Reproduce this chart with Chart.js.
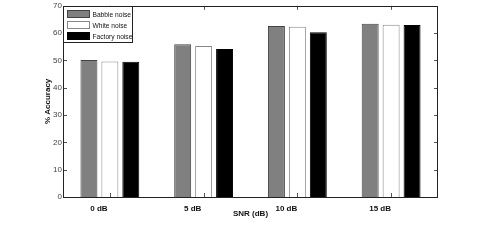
<!DOCTYPE html>
<html>
<head>
<meta charset="utf-8">
<script src="https://cdn.jsdelivr.net/npm/chart.js@4/dist/chart.umd.min.js"></script>
<style>
html,body{margin:0;padding:0;background:#fff;}
#wrap{width:485px;height:249px;}
</style>
</head>
<body>
<div id="wrap"><canvas id="c" width="485" height="249"></canvas></div>
<script>
const categories = ['0 dB', '5 dB', '10 dB', '15 dB'];
const babble = [50.2, 55.9, 62.6, 63.4];
const white = [49.6, 55.3, 62.3, 63.1];
const factory = [49.5, 54.2, 60.3, 63.0];
const seriesNames = ['Babble noise', 'White noise', 'Factory noise'];
const yTicks = [0, 10, 20, 30, 40, 50, 60, 70];

const FONT = 'Liberation Sans, Arial, Helvetica, sans-serif';

const framePlugin = {
  id: 'frame',
  afterDraw(chart) {
    const ctx = chart.ctx;
    const a = chart.chartArea;
    const ys = chart.scales.y, xs = chart.scales.x;
    ctx.save();
    ctx.strokeStyle = '#555';
    ctx.lineWidth = 1;
    yTicks.forEach(v => {
      const py = Math.round(ys.getPixelForValue(v)) + 0.5;
      ctx.beginPath();
      ctx.moveTo(a.left, py); ctx.lineTo(a.left + 4, py);
      ctx.moveTo(a.right, py); ctx.lineTo(a.right - 4, py);
      ctx.stroke();
    });
    categories.forEach((c, i) => {
      const px = Math.round(xs.getPixelForValue(i)) + 0.5;
      ctx.beginPath();
      ctx.moveTo(px, a.top); ctx.lineTo(px, a.top + 4);
      ctx.moveTo(px, a.bottom); ctx.lineTo(px, a.bottom - 4);
      ctx.stroke();
    });
    ctx.strokeStyle = '#222';
    ctx.strokeRect(Math.round(a.left) + 0.5, Math.round(a.top) + 0.5,
                   Math.round(a.right - a.left) - 1, Math.round(a.bottom - a.top));
    // legend
    const lx = Math.round(a.left) + 0.5, ly = Math.round(a.top) + 0.5;
    const lw = 69, lh = 36;
    ctx.fillStyle = '#fff';
    ctx.fillRect(lx, ly, lw, lh);
    ctx.strokeStyle = '#222';
    ctx.strokeRect(lx, ly, lw, lh);
    ctx.font = '8px ' + FONT;
    ctx.textBaseline = 'middle';
    ctx.textAlign = 'left';
    chart.data.datasets.forEach((ds, i) => {
      const ry = ly + 4 + i * 11;
      ctx.fillStyle = ds.backgroundColor;
      ctx.fillRect(lx + 4, ry, 22, 7);
      ctx.strokeStyle = ds.borderColor;
      ctx.strokeRect(lx + 4, ry, 22, 7);
      ctx.fillStyle = '#111';
      ctx.save();
      ctx.translate(lx + 29, ry + 4);
      ctx.scale(0.83, 1);
      ctx.fillText(ds.label, 0, 0);
      ctx.restore();
    });
    ctx.restore();
  }
};

new Chart(document.getElementById('c'), {
  type: 'bar',
  data: {
    labels: categories,
    datasets: [
      { label: seriesNames[0], data: babble, backgroundColor: '#808080', borderColor: '#444', borderWidth: 1 },
      { label: seriesNames[1], data: white, backgroundColor: '#ffffff', borderColor: '#888', borderWidth: 1 },
      { label: seriesNames[2], data: factory, backgroundColor: '#000000', borderColor: '#000', borderWidth: 1 }
    ]
  },
  options: {
    responsive: false,
    animation: false,
    devicePixelRatio: 1,
    layout: { padding: { left: 0, right: 47, top: 5, bottom: 0 } },
    datasets: { bar: { categoryPercentage: 0.67, barPercentage: 0.81 } },
    plugins: { legend: { display: false }, tooltip: { enabled: false } },
    scales: {
      x: {
        grid: { display: false, drawTicks: false },
        border: { display: false },
        ticks: { color: '#111', font: { family: FONT, size: 8, weight: 'bold' }, padding: 7, labelOffset: -11, maxRotation: 0 },
        title: { display: true, text: 'SNR (dB)', color: '#111', font: { family: FONT, size: 8, weight: 'bold' }, padding: { top: 0, bottom: 30 } },
        afterFit(s) { s.height = 52; }
      },
      y: {
        min: 0, max: 70,
        grid: { display: false, drawTicks: false },
        border: { display: false },
        afterBuildTicks(s) { s.ticks = yTicks.map(v => ({ value: v })); },
        ticks: { color: '#444', font: { family: FONT, size: 8 }, padding: 1 },
        title: { display: true, text: '% Accuracy', color: '#111', font: { family: FONT, size: 8, weight: 'bold' }, padding: { top: 43, bottom: 0 } },
        afterFit(s) { s.width = 63; }
      }
    }
  },
  plugins: [framePlugin]
});
</script>
</body>
</html>
